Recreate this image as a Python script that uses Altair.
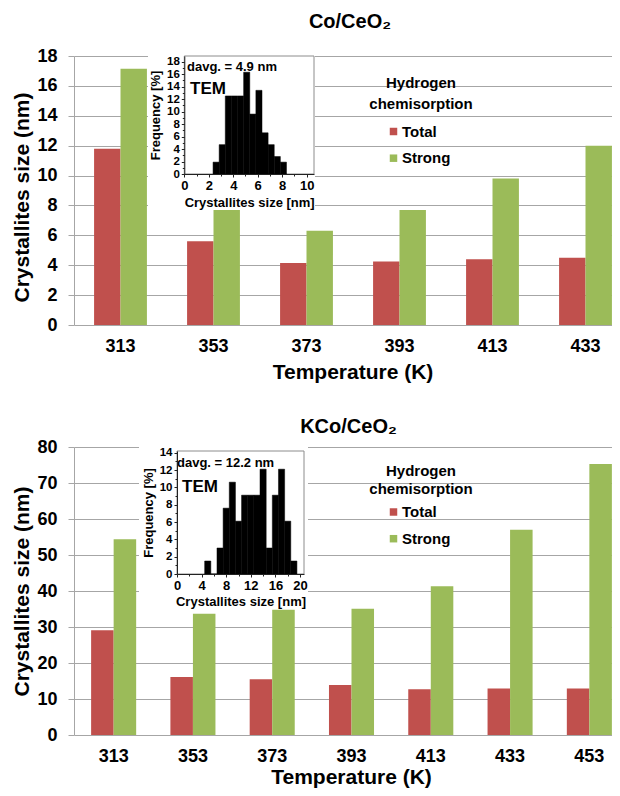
import altair as alt
import pandas as pd

FONT = "Liberation Sans"
RED = "#C0504D"
GREEN = "#9BBB59"
GRID = "#A6A6A6"

# ---------------- data ----------------
series_names = ["Total", "Strong"]

temps_co = ["313", "353", "373", "393", "413", "433"]
total_co = [11.8, 5.6, 4.15, 4.25, 4.4, 4.5]
strong_co = [17.15, 7.8, 6.3, 7.7, 9.8, 12.0]

temps_kco = ["313", "353", "373", "393", "413", "433", "453"]
total_kco = [29.1, 16.1, 15.5, 13.9, 12.7, 12.9, 12.9]
strong_kco = [54.4, 33.7, 34.8, 35.1, 41.3, 57.0, 75.3]

tem_co_start = [2.35, 2.85, 3.35, 3.85, 4.35, 4.85, 5.35, 5.85, 6.35, 6.85, 7.35, 7.85]
tem_co_freq = [1.9, 4.7, 12.5, 12.5, 12.5, 16.3, 9.6, 13.4, 6.6, 4.7, 2.8, 1.9]
tem_co_width = 0.5

tem_kco_start = [4.5, 5.5, 6.5, 7.5, 8.5, 9.5, 10.5, 11.5, 12.5, 13.5, 14.5, 15.5, 16.5, 17.5, 18.5]
tem_kco_freq = [1.5, 0.0, 3.0, 7.6, 10.6, 6.1, 9.1, 9.1, 9.1, 12.1, 3.0, 9.1, 12.1, 6.1, 1.5]
tem_kco_width = 1.0

W = 538


def txt(s, x, y, size, align="left", baseline="alphabetic"):
    return alt.Chart(pd.DataFrame({"a": [0]})).mark_text(
        text=s, font=FONT, fontSize=size, fontWeight="bold", color="black",
        align=align, baseline=baseline).encode(x=alt.value(x), y=alt.value(y))


def panel(title, temps, total, strong, ymax, ystep, L):
    df = pd.DataFrame({
        "temp": temps * 2,
        "series": ["Total"] * len(temps) + ["Strong"] * len(temps),
        "value": list(total) + list(strong),
    })
    xscale = alt.Scale(range=[0, L["xrange"]], paddingInner=0, paddingOuter=0)
    h = L["h"]

    yaxis_kw = dict(values=list(range(0, ymax + 1, ystep)), title="Crystallites size (nm)",
                    grid=True, gridColor=GRID, domainColor=GRID, tickColor=GRID,
                    tickSize=6, labelPadding=11, labelFont=FONT, labelFontSize=18,
                    labelFontWeight="bold", labelColor="black", labelFlush=False,
                    titleFont=FONT, titleFontSize=21, titleFontWeight="bold",
                    titleColor="black", titlePadding=4)
    if L.get("ytitle_y") is not None:
        yaxis_kw["titleY"] = L["ytitle_y"]

    bars = alt.Chart(df).mark_bar(clip=True).encode(
        x=alt.X("temp:N", sort=temps, scale=xscale, axis=None),
        xOffset=alt.XOffset("series:N", sort=series_names,
                            scale=alt.Scale(paddingOuter=0.76, paddingInner=0)),
        y=alt.Y("value:Q", scale=alt.Scale(domain=[0, ymax], nice=False),
                axis=alt.Axis(**yaxis_kw)),
        color=alt.Color("series:N", sort=series_names,
                        scale=alt.Scale(domain=series_names, range=[RED, GREEN]),
                        legend=alt.Legend(orient="none", legendX=L["legx"], legendY=L["legy"],
                                          title=None, symbolType="square", symbolSize=56,
                                          symbolStrokeWidth=0, labelFont=FONT, labelFontSize=15,
                                          labelFontWeight="bold", labelColor="black",
                                          labelOffset=1, rowPadding=10.7, padding=0)),
    )

    ticks = alt.Chart(pd.DataFrame({"temp": temps})).mark_rule(color=GRID, clip=True).encode(
        x=alt.X("temp:N", sort=temps, scale=xscale, axis=None, bandPosition=0),
        y=alt.value(h), y2=alt.value(h + 6),
    )

    xlabels = alt.Chart(pd.DataFrame({"temp": temps})).mark_text(
        font=FONT, fontSize=18, fontWeight="bold", color="black", baseline="middle").encode(
        x=alt.X("temp:N", sort=temps, scale=xscale, axis=None),
        text="temp:N",
        y=alt.value(h + L["xlab_dy"]),
    )

    box = alt.Chart(pd.DataFrame({"a": [0]})).mark_rect(color="white").encode(
        x=alt.value(L["box"][0]), x2=alt.value(L["box"][1]),
        y=alt.value(L["box"][2]), y2=alt.value(L["box"][3]),
    )

    hist = pd.DataFrame({
        "start": L["hs"],
        "end": [s + L["hw"] for s in L["hs"]],
        "freq": L["hf"],
        "base": [0.0] * len(L["hs"]),
    })
    ixscale = alt.Scale(domain=[0, L["ixmax"]], range=[L["ix0"], L["ix1"]], nice=False, zero=False)
    iyscale = alt.Scale(domain=[0, L["iymax"]], range=[L["iy1"], L["iy0"]], nice=False)
    inset = alt.Chart(hist).mark_rect(color="black", stroke="black", strokeWidth=0.5).encode(
        x=alt.X("start:Q", scale=ixscale,
                axis=alt.Axis(orient="bottom", offset=L["iy1"] - h, values=L["ixvals"],
                              title="Crystallites size [nm]", grid=False, domainColor="#222",
                              tickColor="#222", tickSize=3, labelPadding=L["ixlabpad"],
                              labelFont=FONT, labelFontSize=13, labelFontWeight="bold",
                              labelColor="black", labelFlush=False, labelOverlap=False,
                              titleFont=FONT, titleFontSize=13, titleFontWeight="bold",
                              titleColor="black", titlePadding=L["ixtitlepad"], zindex=2)),
        x2="end:Q",
        y=alt.Y("freq:Q", scale=iyscale,
                axis=alt.Axis(orient="left", offset=-L["ix0"], values=L["iyvals"],
                              title="Frequency [%]", grid=False, domainColor="#222",
                              tickColor="#222", tickSize=3, labelPadding=2,
                              labelFont=FONT, labelFontSize=11.5, labelFontWeight="bold",
                              labelColor="black", labelFlush=False, labelOverlap=False,
                              titleFont=FONT, titleFontSize=13, titleFontWeight="bold",
                              titleColor="black", titlePadding=4, zindex=2)),
        y2="base:Q",
    )

    # minor ticks of the inset axes
    minor = alt.Chart(hist).mark_rect(opacity=0).encode(
        x=alt.X("start:Q", scale=ixscale,
                axis=alt.Axis(orient="bottom", offset=L["iy1"] - h, values=L["ixminor"],
                              title=None, labels=False, domain=False, grid=False,
                              tickColor="#222", tickSize=2, zindex=2)),
        x2="end:Q",
        y=alt.Y("freq:Q", scale=iyscale,
                axis=alt.Axis(orient="left", offset=-L["ix0"], values=L["iyminor"],
                              title=None, labels=False, domain=False, grid=False,
                              tickColor="#222", tickSize=2, zindex=2)),
        y2="base:Q",
    )

    frame = alt.Chart(pd.DataFrame({"a": [0]})).mark_rect(
        fillOpacity=0, stroke="#8C8C8C", strokeWidth=1).encode(
        x=alt.value(L["ix0"]), x2=alt.value(L["ix1"]),
        y=alt.value(L["iy0"]), y2=alt.value(L["iy1"]),
    )

    texts = [
        txt(title, L["xrange"] / 2 - 3, L["title_y"], 20, "center", "middle"),
        txt("Temperature (K)", L["xrange"] / 2, h + L["xtitle_dy"], 21, "center", "middle"),
        txt(L["davg"], L["davg_xy"][0], L["davg_xy"][1], 13),
        txt("TEM", L["tem_xy"][0], L["tem_xy"][1], 17),
        txt("Hydrogen", 347, L["lt1"], 15, "center", "middle"),
        txt("chemisorption", 347, L["lt2"], 15, "center", "middle"),
    ]

    return alt.layer(bars, ticks, xlabels, box, frame, inset, minor, *texts).resolve_scale(
        x="independent", y="independent"
    ).properties(width=W, height=h)


L_co = dict(h=269, xrange=558, xlab_dy=21.5, xtitle_dy=48, title_y=-34, ytitle_y=141,
            legx=312, legy=68, lt1=27, lt2=48,
            box=(74, 241, -5, 154), ix0=110.3, ix1=240, iy0=0, iy1=118,
            ixmax=10.6, iymax=18.9, ixvals=[0, 2, 4, 6, 8, 10], iyvals=list(range(0, 19, 2)),
            ixminor=[1, 3, 5, 7, 9], iyminor=list(range(1, 18, 2)),
            ixlabpad=2, ixtitlepad=4,
            hs=tem_co_start, hf=tem_co_freq, hw=tem_co_width,
            davg="davg. = 4.9 nm", davg_xy=(113, 14.7), tem_xy=(116, 38))

L_kco = dict(h=288, xrange=555, xlab_dy=22, xtitle_dy=43, title_y=-20, ytitle_y=None,
             legx=312, legy=57.5, lt1=24, lt2=42,
             box=(65, 234, -8, 162), ix0=103, ix1=230, iy0=4, iy1=127,
             ixmax=20.65, iymax=14.2, ixvals=[0, 4, 8, 12, 16, 20], iyvals=list(range(0, 15, 2)),
             ixminor=[2, 6, 10, 14, 18], iyminor=list(range(1, 14, 2)),
             ixlabpad=2, ixtitlepad=3,
             hs=tem_kco_start, hf=tem_kco_freq, hw=tem_kco_width,
             davg="davg. = 12.2 nm", davg_xy=(103, 20), tem_xy=(108, 45))

top = panel("Co/CeO₂", temps_co, total_co, strong_co, 18, 2, L_co)
bottom = panel("KCo/CeO₂", temps_kco, total_kco, strong_kco, 80, 10, L_kco)

chart = alt.vconcat(top, bottom, spacing=34).resolve_scale(
    color="independent", xOffset="independent"
).properties(
    padding={"left": 3, "top": 4, "right": 0, "bottom": 0},
    background="white",
).configure_view(stroke=None)

chart.save("out.html", embed_options={"renderer": "svg", "actions": False})
